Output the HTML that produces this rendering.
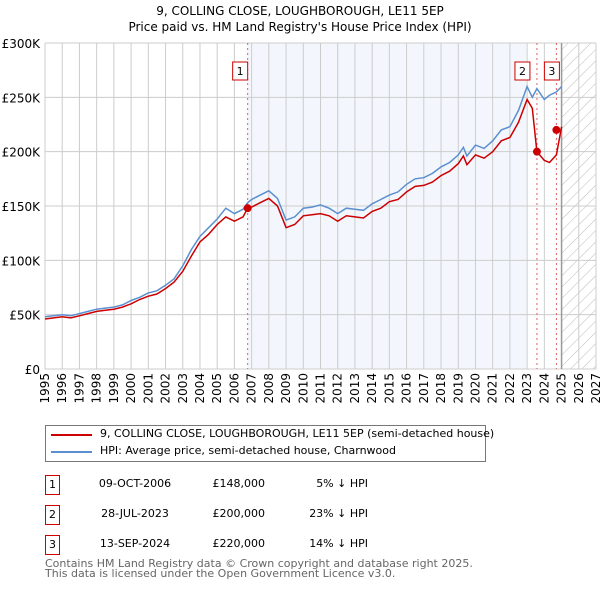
<!DOCTYPE html>
<html><head><meta charset="utf-8"><style>
body{margin:0;width:600px;height:590px;background:#fff;font-family:"DejaVu Sans","Liberation Sans",sans-serif;color:#000;position:relative;overflow:hidden}
.t{position:absolute;white-space:nowrap}
</style></head><body>
<div class="t" style="left:0;width:600px;text-align:center;top:4px;font-size:12px">9, COLLING CLOSE, LOUGHBOROUGH, LE11 5EP</div>
<div class="t" style="left:0;width:600px;text-align:center;top:20px;font-size:12px">Price paid vs. HM Land Registry's House Price Index (HPI)</div>
<svg id="chart" width="600" height="420" style="position:absolute;left:0;top:0" font-family="DejaVu Sans, Liberation Sans, sans-serif"></svg>
<div style="position:absolute;left:45px;top:425px;width:439px;height:35px;border:1px solid #777"></div>
<div style="position:absolute;left:51px;top:434px;width:41px;height:2px;background:#cc0000"></div>
<div class="t" style="left:100px;top:427px;font-size:11px">9, COLLING CLOSE, LOUGHBOROUGH, LE11 5EP (semi-detached house)</div>
<div style="position:absolute;left:51px;top:451px;width:41px;height:2px;background:#5b8fd0"></div>
<div class="t" style="left:100px;top:444px;font-size:11px">HPI: Average price, semi-detached house, Charnwood</div>
<div id="rows"></div>
<div class="t" style="left:45px;top:559px;font-size:11px;color:#666;line-height:10px">Contains HM Land Registry data © Crown copyright and database right 2025.<br>This data is licensed under the Open Government Licence v3.0.</div>
<script>
const years=[1995,1995.5,1996,1996.5,1997,1997.5,1998,1998.5,1999,1999.5,2000,2000.5,2001,2001.5,2002,2002.5,2003,2003.5,2004,2004.5,2005,2005.5,2006,2006.5,2006.77,2007,2007.5,2008,2008.5,2009,2009.5,2010,2010.5,2011,2011.5,2012,2012.5,2013,2013.5,2014,2014.5,2015,2015.5,2016,2016.5,2017,2017.5,2018,2018.5,2019,2019.3,2019.5,2020,2020.5,2021,2021.5,2022,2022.5,2023,2023.3,2023.57,2024,2024.3,2024.7,2025];
const hpi=[48,49,50,49,51,53,55,56,57,59,63,66,70,72,77,83,95,110,122,130,138,148,143,147,153,156,160,164,157,137,140,148,149,151,148,143,148,147,146,152,156,160,163,170,175,176,180,186,190,197,204,196,206,203,210,220,223,238,260,250,258,248,252,255,260];
const price=[46,47,48,47,49,51,53,54,55,57,60,64,67,69,74,80,90,104,117,124,133,140,136,140,148,149,153,157,150,130,133,141,142,143,141,136,141,140,139,145,148,154,156,163,168,169,172,178,182,189,196,188,197,194,200,210,213,227,248,240,200,192,190,197,223];
const sales=[[2006.77,148],[2023.57,200],[2024.7,220]];
const saleDates=["09-OCT-2006","28-JUL-2023","13-SEP-2024"];
const salePrices=["£148,000","£200,000","£220,000"];
const saleDiffs=["5% ↓ HPI","23% ↓ HPI","14% ↓ HPI"];
const yTicks=[0,50,100,150,200,250,300];
const yLabels=["£0","£50K","£100K","£150K","£200K","£250K","£300K"];
const xTicks=[1995,1996,1997,1998,1999,2000,2001,2002,2003,2004,2005,2006,2007,2008,2009,2010,2011,2012,2013,2014,2015,2016,2017,2018,2019,2020,2021,2022,2023,2024,2025,2026,2027];
const X=y=>45+(y-1995)*(551/32), Y=v=>369-v*(326/300);
const svg=document.getElementById('chart'),NS='http://www.w3.org/2000/svg';
function mk(t,a,p){const e=document.createElementNS(NS,t);for(const k in a)e.setAttribute(k,a[k]);(p||svg).appendChild(e);return e;}
let e=mk('rect',{x:X(2006.77),y:Y(300),width:X(2022.95)-X(2006.77),height:Y(0)-Y(300),fill:'#eef3fc',opacity:0.7});

const defs=mk('defs',{});const pat=mk('pattern',{id:'h',width:8,height:8,patternUnits:'userSpaceOnUse',patternTransform:'rotate(45)'},defs);
mk('line',{x1:0,y1:0,x2:0,y2:8,stroke:'#bbb','stroke-width':1},pat);
e=mk('rect',{x:X(2025),y:Y(300),width:X(2027)-X(2025),height:Y(0)-Y(300),fill:'url(#h)'});

xTicks.forEach(t=>{const l=mk('line',{x1:X(t),x2:X(t),y1:Y(300),y2:Y(0),stroke:'#ccc','stroke-width':1});

const tx=mk('text',{x:0,y:0,'font-size':12,transform:`translate(${X(t)+4},${Y(0)+4}) rotate(-90)`,'text-anchor':'end'});tx.textContent=t;
});
yTicks.forEach((t,i)=>{const l=mk('line',{x1:X(1995),x2:X(2027),y1:Y(t),y2:Y(t),stroke:'#ccc','stroke-width':1});

const tx=mk('text',{x:40,y:Y(t)+5,'font-size':12,'text-anchor':'end'});tx.textContent=yLabels[i];
});
e=mk('line',{x1:X(2025),x2:X(2025),y1:Y(300),y2:Y(0),stroke:'#999','stroke-width':1.5});

sales.forEach((s,i)=>{const l=mk('line',{x1:X(s[0]),x2:X(s[0]),y1:Y(300),y2:Y(0),stroke:'#e06060','stroke-width':1,'stroke-dasharray':'2,3'});
});
const pts=a=>a.map((v,i)=>X(years[i]).toFixed(1)+','+Y(v).toFixed(1)).join(' ');
e=mk('polyline',{points:pts(hpi),fill:'none',stroke:'#5b8fd0','stroke-width':1.5});

e=mk('polyline',{points:pts(price),fill:'none',stroke:'#cc0000','stroke-width':1.5});

sales.forEach((s,i)=>{const c=mk('circle',{cx:X(s[0]),cy:Y(s[1]),r:4,fill:'#cc0000'});

const bx=X(s[0])-(i==0?0:i==1?7:-3)-15;
const r=mk('rect',{x:bx,y:62,width:15,height:18,fill:'#fff',stroke:'#cc0000','stroke-width':1});

const t=mk('text',{x:bx+7.5,y:75,'font-size':11,'text-anchor':'middle'});t.textContent=i+1;
});
const rows=document.getElementById('rows');
saleDates.forEach((d,i)=>{const top=475+i*30;
rows.insertAdjacentHTML('beforeend',`<div><div class="t" style="left:45px;top:${top}px;width:13px;height:18px;border:1px solid #cc0000;font-size:11px;text-align:center;line-height:18px">${i+1}</div><div class="t" style="left:80px;width:110px;text-align:center;top:${top+2}px;font-size:11px">${d}</div><div class="t" style="left:180px;width:85px;text-align:right;top:${top+2}px;font-size:11px">${salePrices[i]}</div><div class="t" style="left:270px;width:98px;text-align:right;top:${top+2}px;font-size:11px">${saleDiffs[i]}</div></div>`);});
</script>
</body></html>
